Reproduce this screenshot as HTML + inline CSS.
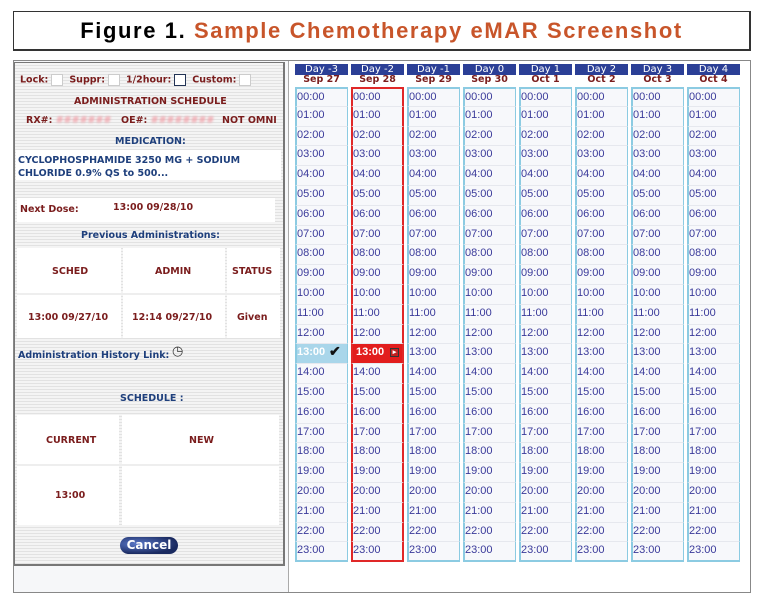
<!DOCTYPE html>
<html><head><meta charset="utf-8"><style>
*{margin:0;padding:0;box-sizing:border-box}
body{width:764px;height:611px;background:#fff;position:relative;overflow:hidden;font-family:"DejaVu Sans",sans-serif}
.t{position:absolute;left:13px;top:11px;width:738px;height:40px;border:1px solid #333;border-right-width:2px;border-bottom-width:2px;text-align:center;font:bold 22px/37px "Liberation Sans",sans-serif;letter-spacing:1.6px;color:#000}
.t span{color:#c8552a}
.outer{position:absolute;left:13px;top:60px;width:738px;height:533px;border:1px solid #888;background:#f6f7f9}
.lp{position:absolute;left:14px;top:62px;width:271px;height:504px;border:1px solid #777;border-width:1px 2px 2px 1px;background:repeating-linear-gradient(#f4f4f4 0 2px,#e2e2e2 2px 3px)}
.rp{position:absolute;left:288px;top:61px;width:462px;height:531px;border-left:1px solid #aaa;background:#fff}
.a{position:absolute;font-weight:bold;font-size:9.5px;white-space:nowrap}
.r{color:#7a1c1c}.b{color:#1e3f7c}
.box{position:absolute;background:#fff}
.cb{display:inline-block;width:12px;height:12px;border:1px solid #ccc;background:#fff;vertical-align:middle;margin:0 6px 0 3px}
.hd{position:absolute;top:64px;width:53px;height:11px;background:#2b3f96;color:#fff;font:10px/11px "DejaVu Sans",sans-serif;text-align:center}
.dt{position:absolute;top:74px;width:53px;color:#7a1c1c;font:bold 9.5px/11px "DejaVu Sans",sans-serif;text-align:center}
.g{position:absolute;left:295px;top:87px;display:grid;grid-template-columns:repeat(8,53px);column-gap:3px;grid-auto-rows:19.8px}
.g i{font-style:normal;font:11px/17px "Liberation Sans",sans-serif;color:#3a3a9a;border-left:2px solid #8ccbe2;border-right:1px solid #8ccbe2;padding-left:0;background:#f7f8fb;position:relative;border-bottom:1px solid #e6e8ee}
.g i:nth-child(8n+2){border-left-color:#e02828;border-right:2px solid #e02828}
.g i:nth-child(-n+8){border-top:2px solid #8ccbe2}
.g i:nth-child(2){border-top-color:#e02828}
.g i:nth-last-child(-n+8){border-bottom:2px solid #8ccbe2}
.g i:nth-last-child(7){border-bottom-color:#e02828}
.g i.c{background:#a9d6ea;color:#fff;font-weight:bold}
.g i.d{background:#e21d1d;color:#fff;font-weight:bold;padding-left:3px}
.cbtn{position:absolute;left:120px;top:537px;width:58px;height:17px;border-radius:9px;background:radial-gradient(ellipse at 30% 40%,#5a78c8,#1a2a60 70%);color:#fff;font:bold 12px/17px "DejaVu Sans",sans-serif;text-align:center}
.bl{color:#f0a0a8;filter:blur(1px)}
</style></head><body>
<div class="t">Figure 1. <span>Sample Chemotherapy eMAR Screenshot</span></div>
<div class="outer"></div>
<div class="lp"></div>
<div class="a r" style="left:20px;top:74px">Lock:<span class="cb"></span>Suppr:<span class="cb"></span>1/2hour:<span class="cb" style="border-color:#223355"></span>Custom:<span class="cb"></span></div>
<div class="a r" style="left:74px;top:96px">ADMINISTRATION SCHEDULE</div>
<div class="a r" style="left:26px;top:115px">RX#: <span class="bl">#######</span></div>
<div class="a r" style="left:121px;top:115px">OE#: <span class="bl">########</span></div>
<div class="a r" style="left:222px;top:115px">NOT OMNI</div>
<div class="a b" style="left:115px;top:136px">MEDICATION:</div>
<div class="box" style="left:16px;top:150px;width:265px;height:30px"></div>
<div class="a b" style="left:18px;top:154px;line-height:13px">CYCLOPHOSPHAMIDE 3250 MG + SODIUM<br>CHLORIDE 0.9% QS to 500...</div>
<div class="box" style="left:17px;top:198px;width:258px;height:24px"></div>
<div class="a r" style="left:20px;top:204px">Next Dose:</div>
<div class="a r" style="left:113px;top:202px">13:00 09/28/10</div>
<div class="a b" style="left:81px;top:230px">Previous Administrations:</div>
<div class="box" style="left:17px;top:248px;width:104px;height:90px"></div>
<div class="box" style="left:123px;top:248px;width:102px;height:90px"></div>
<div class="box" style="left:227px;top:248px;width:53px;height:90px"></div>
<div style="position:absolute;left:17px;top:293px;width:263px;height:2px;background:#eee"></div>
<div class="a r" style="left:52px;top:266px">SCHED</div>
<div class="a r" style="left:155px;top:266px">ADMIN</div>
<div class="a r" style="left:232px;top:266px">STATUS</div>
<div class="a r" style="left:28px;top:312px">13:00 09/27/10</div>
<div class="a r" style="left:132px;top:312px">12:14 09/27/10</div>
<div class="a r" style="left:237px;top:312px">Given</div>
<div class="a b" style="left:18px;top:350px">Administration History Link:</div>
<div class="a" style="left:172px;top:344px;font-size:13px;color:#333">&#9719;</div>
<div class="a b" style="left:120px;top:393px">SCHEDULE :</div>
<div class="box" style="left:17px;top:415px;width:102px;height:110px"></div>
<div class="box" style="left:122px;top:415px;width:157px;height:110px"></div>
<div style="position:absolute;left:17px;top:464px;width:262px;height:2px;background:#eee"></div>
<div class="a r" style="left:46px;top:435px">CURRENT</div>
<div class="a r" style="left:189px;top:435px">NEW</div>
<div class="a r" style="left:55px;top:490px">13:00</div>
<div class="cbtn">Cancel</div>
<div class="rp"></div>
<div class="hd" style="left:295px">Day -3</div><div class="dt" style="left:295px">Sep 27</div>
<div class="hd" style="left:351px">Day -2</div><div class="dt" style="left:351px">Sep 28</div>
<div class="hd" style="left:407px">Day -1</div><div class="dt" style="left:407px">Sep 29</div>
<div class="hd" style="left:463px">Day 0</div><div class="dt" style="left:463px">Sep 30</div>
<div class="hd" style="left:519px">Day 1</div><div class="dt" style="left:519px">Oct 1</div>
<div class="hd" style="left:575px">Day 2</div><div class="dt" style="left:575px">Oct 2</div>
<div class="hd" style="left:631px">Day 3</div><div class="dt" style="left:631px">Oct 3</div>
<div class="hd" style="left:687px">Day 4</div><div class="dt" style="left:687px">Oct 4</div>
<div class="g">
<i>00:00</i><i>00:00</i><i>00:00</i><i>00:00</i><i>00:00</i><i>00:00</i><i>00:00</i><i>00:00</i>
<i>01:00</i><i>01:00</i><i>01:00</i><i>01:00</i><i>01:00</i><i>01:00</i><i>01:00</i><i>01:00</i>
<i>02:00</i><i>02:00</i><i>02:00</i><i>02:00</i><i>02:00</i><i>02:00</i><i>02:00</i><i>02:00</i>
<i>03:00</i><i>03:00</i><i>03:00</i><i>03:00</i><i>03:00</i><i>03:00</i><i>03:00</i><i>03:00</i>
<i>04:00</i><i>04:00</i><i>04:00</i><i>04:00</i><i>04:00</i><i>04:00</i><i>04:00</i><i>04:00</i>
<i>05:00</i><i>05:00</i><i>05:00</i><i>05:00</i><i>05:00</i><i>05:00</i><i>05:00</i><i>05:00</i>
<i>06:00</i><i>06:00</i><i>06:00</i><i>06:00</i><i>06:00</i><i>06:00</i><i>06:00</i><i>06:00</i>
<i>07:00</i><i>07:00</i><i>07:00</i><i>07:00</i><i>07:00</i><i>07:00</i><i>07:00</i><i>07:00</i>
<i>08:00</i><i>08:00</i><i>08:00</i><i>08:00</i><i>08:00</i><i>08:00</i><i>08:00</i><i>08:00</i>
<i>09:00</i><i>09:00</i><i>09:00</i><i>09:00</i><i>09:00</i><i>09:00</i><i>09:00</i><i>09:00</i>
<i>10:00</i><i>10:00</i><i>10:00</i><i>10:00</i><i>10:00</i><i>10:00</i><i>10:00</i><i>10:00</i>
<i>11:00</i><i>11:00</i><i>11:00</i><i>11:00</i><i>11:00</i><i>11:00</i><i>11:00</i><i>11:00</i>
<i>12:00</i><i>12:00</i><i>12:00</i><i>12:00</i><i>12:00</i><i>12:00</i><i>12:00</i><i>12:00</i>
<i class="c">13:00<b style="position:absolute;left:32px;top:-1px;color:#111;font-size:14px">&#10004;</b></i><i class="d">13:00<b style="position:absolute;right:3px;top:4px;width:9px;height:9px;background:#c02020;border:1px solid #333;font-size:7px;line-height:7px;text-align:center;padding:0">&#9656;</b></i><i>13:00</i><i>13:00</i><i>13:00</i><i>13:00</i><i>13:00</i><i>13:00</i>
<i>14:00</i><i>14:00</i><i>14:00</i><i>14:00</i><i>14:00</i><i>14:00</i><i>14:00</i><i>14:00</i>
<i>15:00</i><i>15:00</i><i>15:00</i><i>15:00</i><i>15:00</i><i>15:00</i><i>15:00</i><i>15:00</i>
<i>16:00</i><i>16:00</i><i>16:00</i><i>16:00</i><i>16:00</i><i>16:00</i><i>16:00</i><i>16:00</i>
<i>17:00</i><i>17:00</i><i>17:00</i><i>17:00</i><i>17:00</i><i>17:00</i><i>17:00</i><i>17:00</i>
<i>18:00</i><i>18:00</i><i>18:00</i><i>18:00</i><i>18:00</i><i>18:00</i><i>18:00</i><i>18:00</i>
<i>19:00</i><i>19:00</i><i>19:00</i><i>19:00</i><i>19:00</i><i>19:00</i><i>19:00</i><i>19:00</i>
<i>20:00</i><i>20:00</i><i>20:00</i><i>20:00</i><i>20:00</i><i>20:00</i><i>20:00</i><i>20:00</i>
<i>21:00</i><i>21:00</i><i>21:00</i><i>21:00</i><i>21:00</i><i>21:00</i><i>21:00</i><i>21:00</i>
<i>22:00</i><i>22:00</i><i>22:00</i><i>22:00</i><i>22:00</i><i>22:00</i><i>22:00</i><i>22:00</i>
<i>23:00</i><i>23:00</i><i>23:00</i><i>23:00</i><i>23:00</i><i>23:00</i><i>23:00</i><i>23:00</i>
</div>
</body></html>
